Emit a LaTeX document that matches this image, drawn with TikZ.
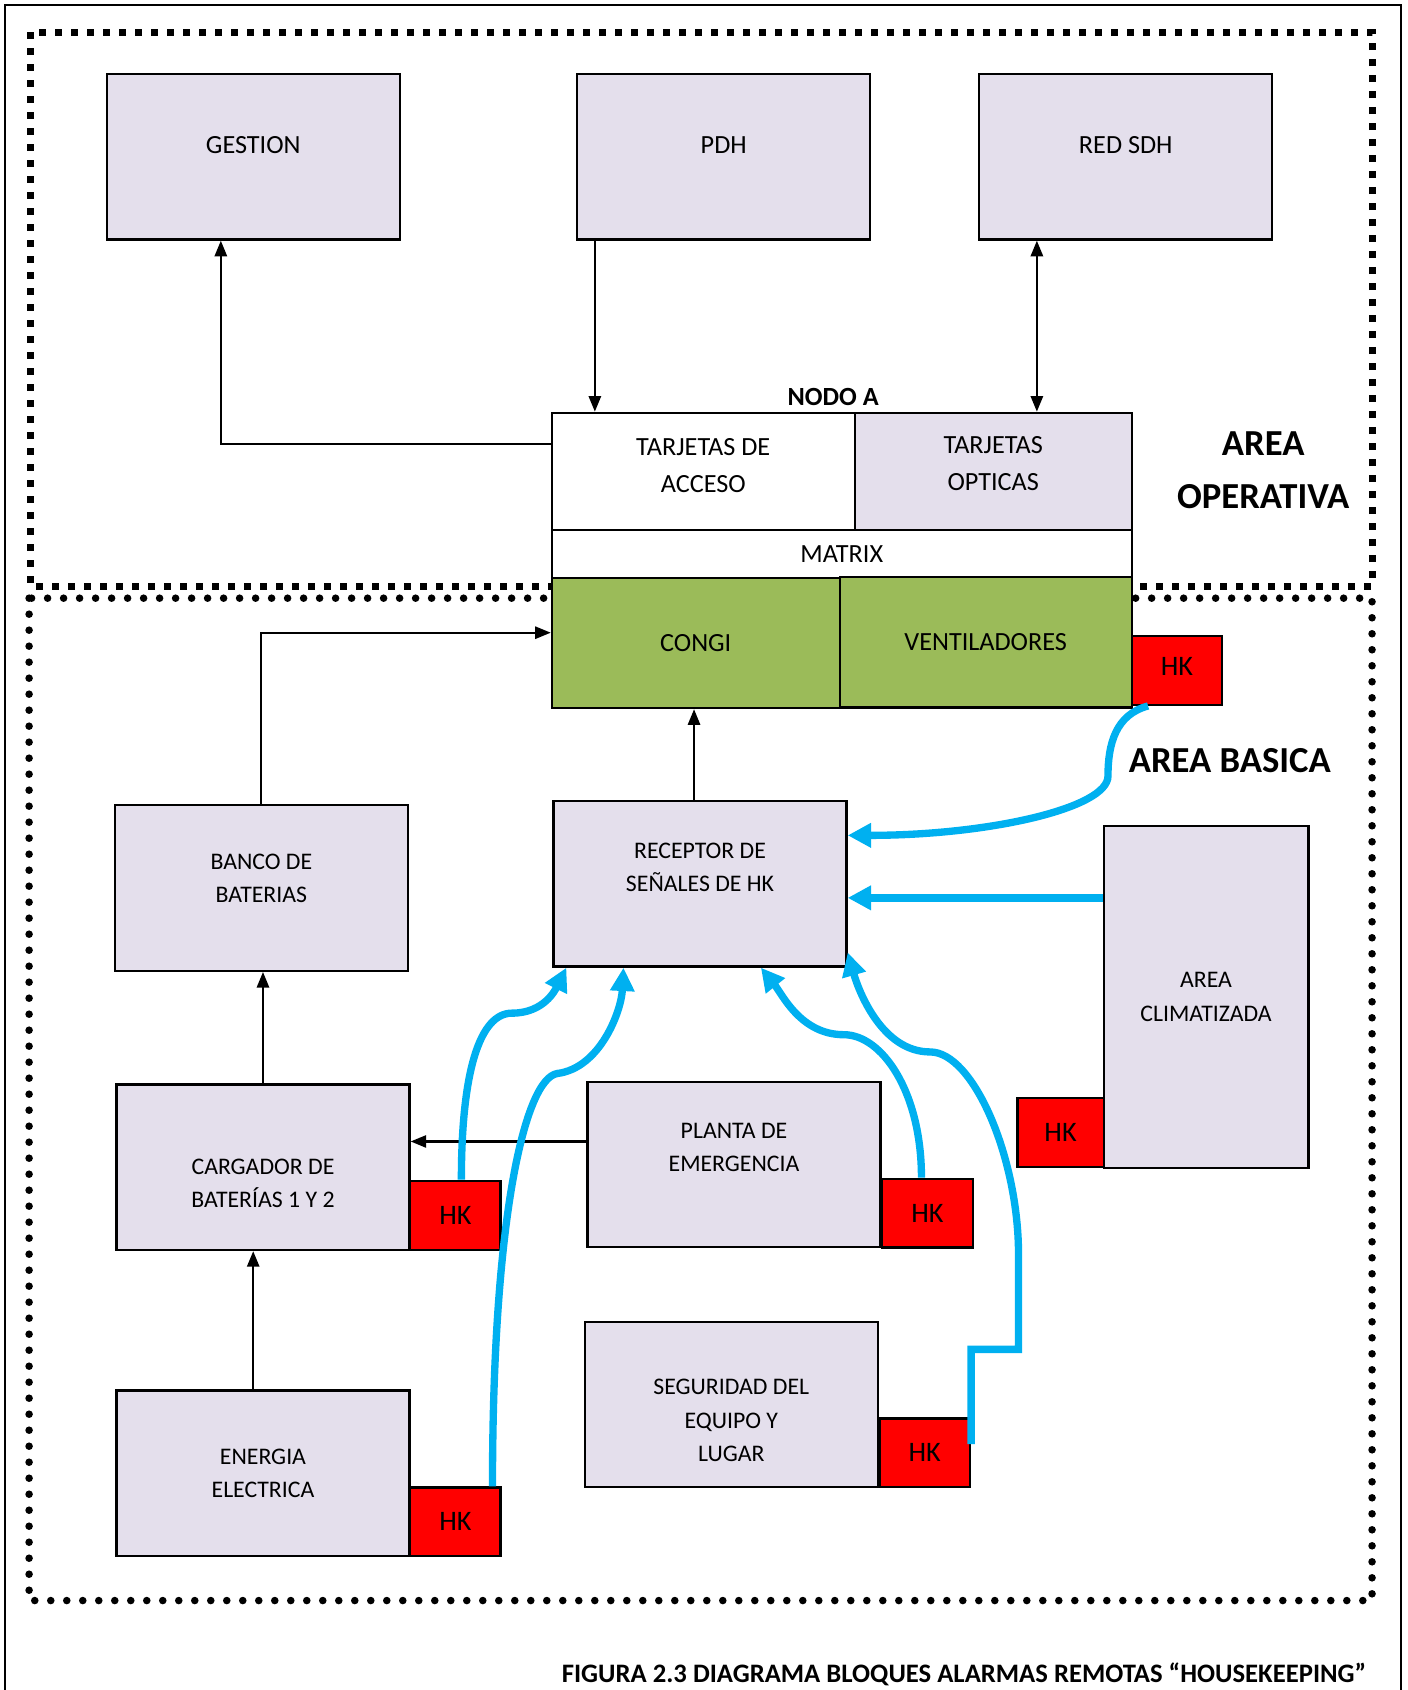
\documentclass[tikz,border=0pt]{standalone}
\usepackage{fontspec}
\setmainfont{Carlito}
\usetikzlibrary{arrows.meta}
\definecolor{boxlila}{RGB}{228,223,236}
\definecolor{congigreen}{RGB}{155,187,89}
\definecolor{hkblue}{RGB}{0,176,240}
\definecolor{hkred}{RGB}{255,0,0}
\newcommand\liftup[1]{\rule[-#1]{0pt}{#1}}
\newcommand\pushdn[1]{\rule{0pt}{#1}}
\tikzset{
  blk/.style={draw,line width=1pt,fill=boxlila,inner sep=0pt,align=center,
    minimum width=131.9pt,minimum height=74.5pt,font=\fontsize{10.7}{15}\selectfont},
  topblk/.style={blk,font=\fontsize{11.8}{16.5}\selectfont},
  hk/.style={draw,line width=1pt,fill=hkred,inner sep=0pt,minimum width=40.7pt,
    minimum height=31pt,font=\fontsize{12.7}{15}\selectfont},
  wire/.style={line width=0.95pt},
  hkline/.style={hkblue,line width=3.3pt,-{Triangle[length=10.5pt,width=10.5pt]}},
  sqdots/.style={line width=3.2pt,dash pattern=on 3.2pt off 4pt},
  rddots/.style={line width=3.4pt,line cap=round,dash pattern=on 0pt off 7.2pt},
  areatxt/.style={font=\fontsize{16.5}{23.8}\selectfont\bfseries,align=center}
}

\begin{document}
\begin{tikzpicture}[x=0.485pt,y=-0.485pt,>={Triangle[length=7pt,width=5.5pt]}]
  \useasboundingbox (0,0) rectangle (1306,1568);
  % marco y areas
  \draw[line width=0.9pt] (5,1580) -- (5,5) -- (1300,5) -- (1300,1580);
  \draw[sqdots] (28,30) rectangle (1273,544);
  \draw[rddots] (27,555) rectangle (1273,1485);

  % area operativa
  \node[topblk] (gestion) at (235,145.5) {GESTION\liftup{10.2pt}};
  \node[topblk] (pdh) at (671.5,145.5) {PDH\liftup{10.2pt}};
  \node[topblk] (redsdh) at (1044.5,145.5) {RED SDH\liftup{10.2pt}};
  \node[font=\fontsize{11.8}{14}\selectfont\bfseries] (nodoa) at (773,368) {NODO A};
  \node[topblk,fill=white,minimum width=136.3pt,minimum height=52.9pt] (acceso) at (652.5,437.5) {TARJETAS DE\\ACCESO\liftup{5.3pt}};
  \node[topblk,minimum width=124.6pt,minimum height=52.9pt] (opticas) at (921.5,437.5) {TARJETAS\\OPTICAS\liftup{7.3pt}};
  \node[topblk,fill=white,minimum width=260.9pt,minimum height=21.3pt] (matriz) at (781,514) {MATRIX};
  \node[topblk,fill=congigreen,minimum width=129.5pt,minimum height=58.7pt] (congi) at (645.5,596.5) {CONGI};
  \node[topblk,fill=congigreen,minimum width=131.4pt,minimum height=58.7pt] (venti) at (914.5,596) {VENTILADORES};
  \node[hk] (hkv) at (1092,622) {HK\liftup{3.9pt}};
  \node[areatxt] (areaop) at (1172,436.5) {AREA\\OPERATIVA};

  % area basica
  \node[areatxt] (areabas) at (1141,706) {AREA BASICA};
  \node[blk] (banco) at (242.5,824) {BANCO DE\\BATERIAS\liftup{8.7pt}};
  \node[blk] (receptor) at (649.5,820) {RECEPTOR DE\\SEÑALES DE HK\liftup{14.6pt}};
  \node[blk,minimum width=92.2pt,minimum height=154.2pt] (clima) at (1119,925) {AREA\\CLIMATIZADA};
  \node[hk,minimum width=38.8pt] (hkc) at (984,1051) {HK};
  \node[blk] (cargador) at (244,1083) {\pushdn{21.5pt}CARGADOR DE\\BATERÍAS 1 Y 2};
  \node[hk] (hkg) at (422.5,1127.5) {HK};
  \node[blk] (planta) at (681,1080.5) {PLANTA DE\\EMERGENCIA\liftup{15.5pt}};
  \node[hk] (hkp) at (860.5,1125.5) {HK};
  \node[blk] (seguridad) at (678.5,1303) {\pushdn{21.5pt}SEGURIDAD DEL\\EQUIPO Y\\LUGAR};
  \node[hk] (hks) at (858,1348) {HK};
  \node[blk] (energia) at (244,1367) {ENERGIA\\ELECTRICA};
  \node[hk] (hke) at (422.5,1412) {HK};

  \node[anchor=east,inner sep=0pt,font=\fontsize{12}{14}\selectfont\bfseries] (caption) at (1268,1553) {FIGURA 2.3 DIAGRAMA BLOQUES ALARMAS REMOTAS “HOUSEKEEPING”};

  % conexiones
  \draw[wire,->] ([yshift=12.4pt]acceso.west) -| ([xshift=-14.6pt]gestion.south);
  \draw[wire,->] ([xshift=-58pt]pdh.south) -- ([xshift=-58pt]pdh.south |- acceso.north);
  \draw[wire,<->] ([xshift=-40pt]redsdh.south) -- ([xshift=-40pt]redsdh.south |- opticas.north);
  \draw[wire,->] (banco.north) |- ([yshift=4.6pt]congi.west);
  \draw[wire,->] ([xshift=-2.7pt]receptor.north) -- ([xshift=-2.7pt]receptor.north |- congi.south);
  \draw[wire,->] (cargador.north) -- (cargador.north |- banco.south);
  \draw[wire,->] ([yshift=10.4pt]planta.west) -- ([yshift=10.4pt]planta.west -| cargador.east);
  \draw[wire,->] ([xshift=-4.4pt]energia.north) -- ([xshift=-4.4pt]energia.north |- cargador.south);

  % senales HK
  \draw[hkline] ([xshift=-13pt]hkv.south) .. controls +(-30,8) and +(0,-30) .. (1028,720)
    .. controls +(0,30) and +(130,0) .. ([yshift=21.8pt]receptor.east);
  \draw[hkline] ([yshift=44.6pt]clima.west) -- ([yshift=44.6pt]clima.west -| receptor.east);
  \draw[hkline] ([xshift=2.7pt]hkg.north) .. controls +(0,-100) and +(-30,0) .. (475,940)
    .. controls +(30,0) and +(-10,20) .. ([xshift=6.3pt]receptor.south west);
  \draw[hkline] ([xshift=16.7pt]hke.north) .. controls +(0,-250) and +(-30,5) .. (517,996)
    .. controls +(40,-5) and +(-2,40) .. ([xshift=32pt]receptor.south west);
  \draw[hkline] ([xshift=-2.7pt]hkp.north) .. controls +(0,-80) and +(35,0) .. (783,960)
    .. controls +(-40,0) and +(20,25) .. ([xshift=27.4pt]receptor.south);
  \draw[hkline] ([yshift=3.9pt]hks.east) -- ++(0,-88) -- ++(44,0) -- ++(0,-88)
    .. controls +(0,-90) and +(40,0) .. (863,976)
    .. controls +(-45,0) and +(10,35) .. ([yshift=6.8pt]receptor.south east);
\end{tikzpicture}
\end{document}
